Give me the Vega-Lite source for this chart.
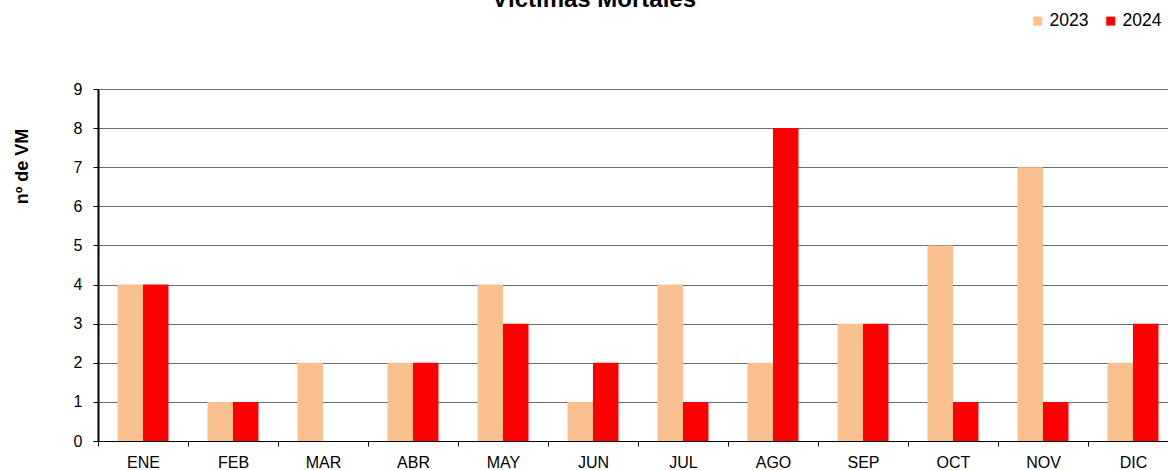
{
  "$schema": "https://vega.github.io/schema/vega-lite/v6.json",
  "width": 1070,
  "height": 352,
  "autosize": {"type": "none"},
  "padding": {"left": 98, "top": 89, "right": 0, "bottom": 29},
  "background": "white",
  "title": {
    "text": "Víctimas Mortales",
    "fontSize": 24,
    "fontWeight": "bold",
    "color": "black",
    "anchor": "middle",
    "dx": -39,
    "offset": -19,
    "baseline": "alphabetic"
  },
  "data": {
    "values": [
      {"mes": "ENE", "anio": "2023", "vm": 4}, {"mes": "ENE", "anio": "2024", "vm": 4},
      {"mes": "FEB", "anio": "2023", "vm": 1}, {"mes": "FEB", "anio": "2024", "vm": 1},
      {"mes": "MAR", "anio": "2023", "vm": 2}, {"mes": "MAR", "anio": "2024", "vm": 0},
      {"mes": "ABR", "anio": "2023", "vm": 2}, {"mes": "ABR", "anio": "2024", "vm": 2},
      {"mes": "MAY", "anio": "2023", "vm": 4}, {"mes": "MAY", "anio": "2024", "vm": 3},
      {"mes": "JUN", "anio": "2023", "vm": 1}, {"mes": "JUN", "anio": "2024", "vm": 2},
      {"mes": "JUL", "anio": "2023", "vm": 4}, {"mes": "JUL", "anio": "2024", "vm": 1},
      {"mes": "AGO", "anio": "2023", "vm": 2}, {"mes": "AGO", "anio": "2024", "vm": 8},
      {"mes": "SEP", "anio": "2023", "vm": 3}, {"mes": "SEP", "anio": "2024", "vm": 3},
      {"mes": "OCT", "anio": "2023", "vm": 5}, {"mes": "OCT", "anio": "2024", "vm": 1},
      {"mes": "NOV", "anio": "2023", "vm": 7}, {"mes": "NOV", "anio": "2024", "vm": 1},
      {"mes": "DIC", "anio": "2023", "vm": 2}, {"mes": "DIC", "anio": "2024", "vm": 3}
    ]
  },
  "mark": {"type": "bar"},
  "encoding": {
    "x": {
      "field": "mes",
      "type": "nominal",
      "sort": ["ENE", "FEB", "MAR", "ABR", "MAY", "JUN", "JUL", "AGO", "SEP", "OCT", "NOV", "DIC"],
      "scale": {"range": [0, 1080], "paddingInner": 0, "paddingOuter": 0},
      "axis": {
        "title": null,
        "labelAngle": 0,
        "labelFontSize": 16,
        "labelColor": "black",
        "labelPadding": 8,
        "tickBand": "extent",
        "tickSize": 5,
        "tickColor": "black",
        "domainColor": "black",
        "domainWidth": 1,
        "grid": false
      }
    },
    "xOffset": {
      "field": "anio",
      "type": "nominal",
      "scale": {"paddingInner": 0, "paddingOuter": 0.765}
    },
    "y": {
      "field": "vm",
      "type": "quantitative",
      "scale": {"domain": [0, 9], "nice": false},
      "axis": {
        "title": "nº de VM",
        "titleFontSize": 18,
        "titleFontWeight": "bold",
        "titleColor": "black",
        "titleX": -71,
        "titleY": 77,
        "titleAlign": "center",
        "titleBaseline": "alphabetic",
        "values": [0, 1, 2, 3, 4, 5, 6, 7, 8, 9],
        "labelFontSize": 16,
        "labelColor": "black",
        "labelPadding": 11,
        "tickSize": 5,
        "tickColor": "black",
        "domainColor": "black",
        "domainWidth": 2,
        "grid": true,
        "gridColor": "#6e6e6e",
        "gridWidth": 1
      }
    },
    "color": {
      "field": "anio",
      "type": "nominal",
      "scale": {"domain": ["2023", "2024"], "range": ["#FAC090", "#FF0000"]},
      "legend": {
        "orient": "none",
        "legendX": 931,
        "legendY": -77,
        "direction": "horizontal",
        "title": null,
        "symbolType": "square",
        "symbolSize": 81,
        "symbolStrokeWidth": 0,
        "labelFontSize": 17.5,
        "labelColor": "black",
        "labelOffset": 3,
        "columnPadding": 13,
        "padding": 0
      }
    }
  },
  "config": {
    "view": {"stroke": null},
    "font": "Liberation Sans"
  }
}
